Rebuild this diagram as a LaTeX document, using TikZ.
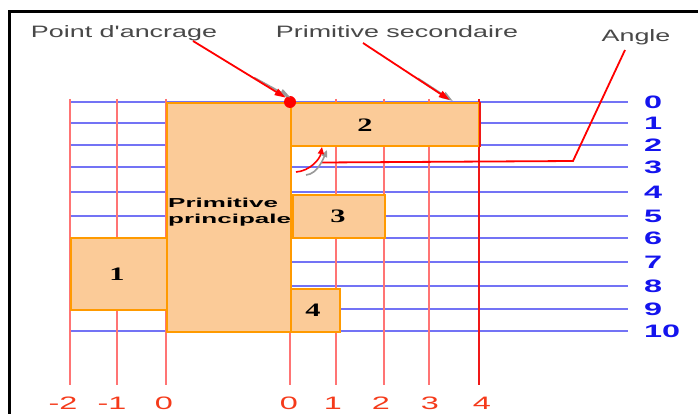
\documentclass[tikz,border=0pt]{standalone}
\usepackage{fontspec}
\setmainfont{Liberation Sans}
\newfontfamily\lblfont[FakeStretch=1.63]{Liberation Sans}
\newfontfamily\numfont[FakeStretch=1.8]{Liberation Sans}
\newfontfamily\boxfont[FakeStretch=1.6]{Liberation Serif}
\newfontfamily\primfont[FakeStretch=2.0]{Liberation Sans}
\usetikzlibrary{arrows.meta,calc}
\definecolor{peach}{HTML}{FBCB98}
\definecolor{orng}{HTML}{FF9A00}
\definecolor{gblue}{HTML}{7373F5}
\definecolor{gred}{HTML}{FF7474}
\definecolor{dred}{HTML}{F01818}
\definecolor{nblue}{HTML}{1414EE}
\definecolor{nred}{HTML}{F53A1A}
\definecolor{txtgray}{HTML}{484848}
\tikzset{
  hline/.style={draw=gblue,line width=1.3pt},
  vline/.style={draw=gred,line width=1.6pt},
  prim/.style={draw=orng,fill=peach,line width=2.2pt,inner sep=0pt,anchor=north west},
  boxlbl/.style={font=\boxfont\bfseries\fontsize{19}{19}\selectfont,text=black,inner sep=0pt},
  rowlbl/.style={font=\numfont\bfseries\fontsize{18}{18}\selectfont,text=nblue,inner sep=0pt,anchor=west},
  collbl/.style={font=\numfont\fontsize{18}{18}\selectfont,text=nred,inner sep=0pt},
  toplbl/.style={font=\lblfont\fontsize{16.5}{16.5}\selectfont,text=txtgray,inner sep=0pt,anchor=base},
  redarrow/.style={draw=red,line width=1.8pt,-{Triangle[length=11pt,width=7pt]}},
  shadowarrow/.style={draw=gray!80,line width=1.6pt,-{Triangle[length=11pt,width=7pt]}},
}
\begin{document}
\begin{tikzpicture}[x=1pt,y=-1pt]
\useasboundingbox (0,0) rectangle (698,414);
\fill[white] (0,0) rectangle (698,414);
% frame (top and left edges)
\draw[black,line width=3pt] (9,414) -- (9,12) -- (698,12);
% horizontal grid lines with labels
\foreach \i/\y in {0/102,1/123,2/145,3/167,4/192,5/216,6/238,7/262,8/286,9/309,10/331}{
  \draw[hline] (70,\y) -- (628,\y);
  \node[rowlbl] (r\i) at (644,\y) {\i};
}
% vertical grid lines
\foreach \n/\x in {a/70,b/117,c/166,d/290,e/336,f/384,g/429}{
  \draw[vline] (\x,99) -- (\x,385);
}
\draw[draw=dred,line width=1.8pt] (479,99) -- (479,385);
% column labels
\node[collbl] (cm2) at (63,403) {-2};
\node[collbl] (cm1) at (112,403) {-1};
\node[collbl] (c0a) at (164,403) {0};
\node[collbl] (c0b) at (289,403) {0};
\node[collbl] (c1) at (333,403) {1};
\node[collbl] (c2) at (381,403) {2};
\node[collbl] (c3) at (430,403) {3};
\node[collbl] (c4) at (482,403) {4};
% primitives
\node[prim,minimum width=124pt,minimum height=229pt] (pp) at (166,102) {};
\node[prim,minimum width=96pt,minimum height=72pt] (b1) at (70,237) {};
\node[prim,minimum width=188pt,minimum height=43pt] (b2) at (290,102) {};
\node[prim,minimum width=92pt,minimum height=43pt] (b3) at (292,194) {};
\node[prim,minimum width=49pt,minimum height=43pt] (b4) at (290,288) {};
\draw[draw=dred,line width=1.6pt] (b2.north east) -- (b2.south east);
% labels in primitives
\node[font=\primfont\bfseries\fontsize{13}{16}\selectfont,align=left,inner sep=0pt,anchor=north west] (pptxt) at (168,197.5) {Primitive\\principale};
\node[boxlbl] (l1) at (117,274) {1};
\node[boxlbl] (l2) at (365,125) {2};
\node[boxlbl] (l3) at (338,216) {3};
\node[boxlbl] (l4) at (313,310) {4};
% anchor point
\node[circle,fill=red,inner sep=0pt,minimum size=12pt] (dot) at (290,102) {};
% top labels
\node[toplbl] (pa) at (124,38) {Point d'ancrage};
\node[toplbl] (ps) at (397,38) {Primitive secondaire};
\node[toplbl] (ang) at (636,42) {Angle};
% arrows
\coordinate (pas) at (193,41);
\coordinate (pss) at (363,43);
\coordinate (pse) at ($(b2.north west)!0.84!(b2.north east)$);
\draw[shadowarrow] ($(pas)!0.6!(dot)+(3,0)$) -- ($(dot.north west)+(5,0)$);
\draw[redarrow] (pas) -- (dot.north west);
\draw[shadowarrow] ($(pss)!0.6!(pse)+(3,0)$) -- ($(pse)+(3,-1)$);
\draw[redarrow] (pss) -- ($(pse)+(0,-2)$);
% angle
\coordinate (angs) at (625,50);
\coordinate (angk) at (573,161);
\coordinate (ange) at (322,162.5);
\draw[draw=red,line width=1.8pt] (angs) -- (angk) -- (ange);
\coordinate (arcs) at (296,172);
\coordinate (arce) at (322,147);
\draw[draw=gray!80,line width=1.6pt,-{Triangle[length=7pt,width=6pt]}] ($(arcs)+(10,3)$) .. controls ($(arcs)+(22,2)$) and ($(arce)+(2,10)$) .. ($(arce)+(5,3)$);
\draw[draw=red,line width=1.6pt,-{Triangle[length=7pt,width=6pt]}] (arcs) .. controls ($(arcs)+(14,-1)$) and ($(arce)+(-2,12)$) .. (arce);
\end{tikzpicture}
\end{document}
